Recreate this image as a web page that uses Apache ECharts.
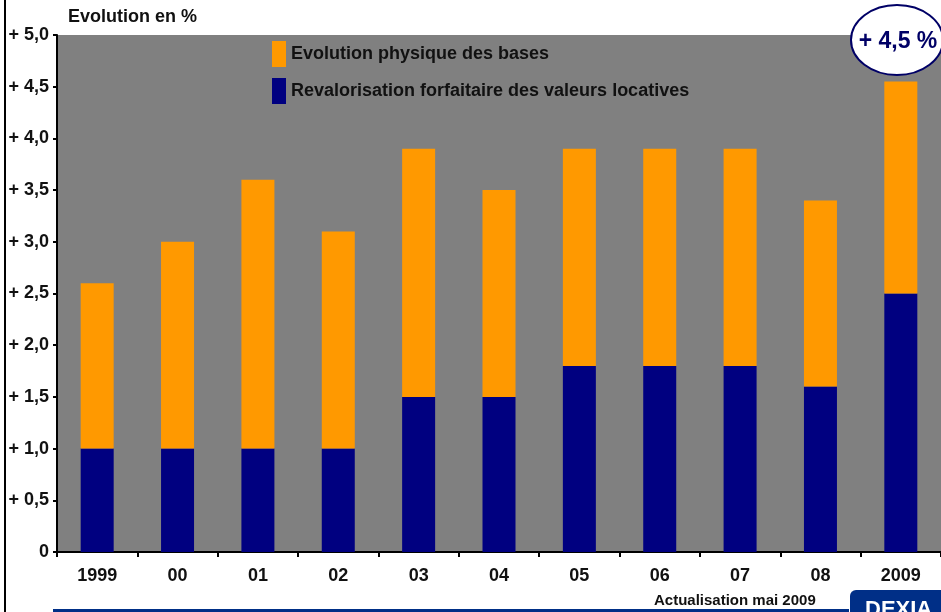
<!DOCTYPE html>
<html>
<head>
<meta charset="utf-8">
<script src="https://cdn.jsdelivr.net/npm/echarts@6/dist/echarts.min.js"></script>
<style>
    html, body { margin: 0; padding: 0; background: #fff; }
    #chart { width: 941px; height: 612px; }
</style>
</head>
<body>
<div id="chart"></div>
<script>
    // categories and values
    var years = ['1999', '00', '01', '02', '03', '04', '05', '06', '07', '08', '2009'];
    var revalorisation = [1.0, 1.0, 1.0, 1.0, 1.5, 1.5, 1.8, 1.8, 1.8, 1.6, 2.5];
    var physique = [1.6, 2.0, 2.6, 2.1, 2.4, 2.0, 2.1, 2.1, 2.1, 1.8, 2.05];
    var yTicks = ['0', '+ 0,5', '+ 1,0', '+ 1,5', '+ 2,0', '+ 2,5', '+ 3,0', '+ 3,5', '+ 4,0', '+ 4,5', '+ 5,0'];

    var chart = echarts.init(document.getElementById('chart'));
    var font = 'Liberation Sans, Arial, sans-serif';

    var option = {
        backgroundColor: '#fff',
        animation: false,
        textStyle: { fontFamily: font },
        grid: {
            left: 57, top: 35, width: 888, height: 517,
            show: true, backgroundColor: '#808080', borderWidth: 0
        },
        legend: {
            orient: 'vertical',
            left: 267, top: 36,
            icon: 'rect',
            itemWidth: 14, itemHeight: 26, itemGap: 11,
            textStyle: { fontSize: 18, fontWeight: 'bold', color: '#111', fontFamily: font },
            data: ['Evolution physique des bases', 'Revalorisation forfaitaire des valeurs locatives']
        },
        xAxis: {
            type: 'category',
            data: years,
            axisLine: { lineStyle: { color: '#000', width: 2 } },
            axisTick: { show: true, length: 5, lineStyle: { color: '#000', width: 2 } },
            axisLabel: { margin: 15, fontSize: 18, fontWeight: 'bold', color: '#111', fontFamily: font }
        },
        yAxis: {
            type: 'value',
            min: 0, max: 5, interval: 0.5,
            splitLine: { show: false },
            axisLine: { show: true, lineStyle: { color: '#000', width: 2 } },
            axisTick: { show: true, length: 4, lineStyle: { color: '#000', width: 2 } },
            axisLabel: {
                margin: 8, fontSize: 18, fontWeight: 'bold', color: '#111', fontFamily: font,
                formatter: function (v) { return yTicks[Math.round(v * 2)]; }
            }
        },
        series: [
            {
                name: 'Revalorisation forfaitaire des valeurs locatives',
                type: 'bar', stack: 'tot', barWidth: 33,
                itemStyle: { color: '#000080' },
                data: revalorisation
            },
            {
                name: 'Evolution physique des bases',
                type: 'bar', stack: 'tot', barWidth: 33,
                itemStyle: { color: '#FF9900' },
                data: physique
            }
        ],
        graphic: [
            // frame line on the left
            { type: 'rect', shape: { x: 4, y: 0, width: 2, height: 612 }, style: { fill: '#000' } },
            {
                type: 'text', left: 68, top: 8,
                style: { text: 'Evolution en %', font: 'bold 18px ' + font, fill: '#111' }
            },
            // bubble
            {
                type: 'ellipse', shape: { cx: 897, cy: 40, rx: 46, ry: 35 },
                style: { fill: '#fff', stroke: '#000066', lineWidth: 2 }, z: 100
            },
            {
                type: 'text', x: 898, y: 42, z: 101,
                style: { text: '+ 4,5 %', font: 'bold 23px ' + font, fill: '#000066', align: 'center', verticalAlign: 'middle' }
            },
            // footer
            {
                type: 'text', left: 654, top: 593,
                style: { text: 'Actualisation mai 2009', font: 'bold 15px ' + font, fill: '#111' }
            },
            { type: 'rect', shape: { x: 53, y: 609, width: 796, height: 3 }, style: { fill: '#002f87' } },
            { type: 'rect', shape: { x: 850, y: 590, width: 95, height: 25, r: [6, 0, 0, 0] }, style: { fill: '#002f87' } },
            {
                type: 'text', left: 865, top: 599,
                style: { text: 'DEXIA', font: 'bold 22px ' + font, fill: '#fff' }
            }
        ]
    };
    chart.setOption(option);
</script>
</body>
</html>
